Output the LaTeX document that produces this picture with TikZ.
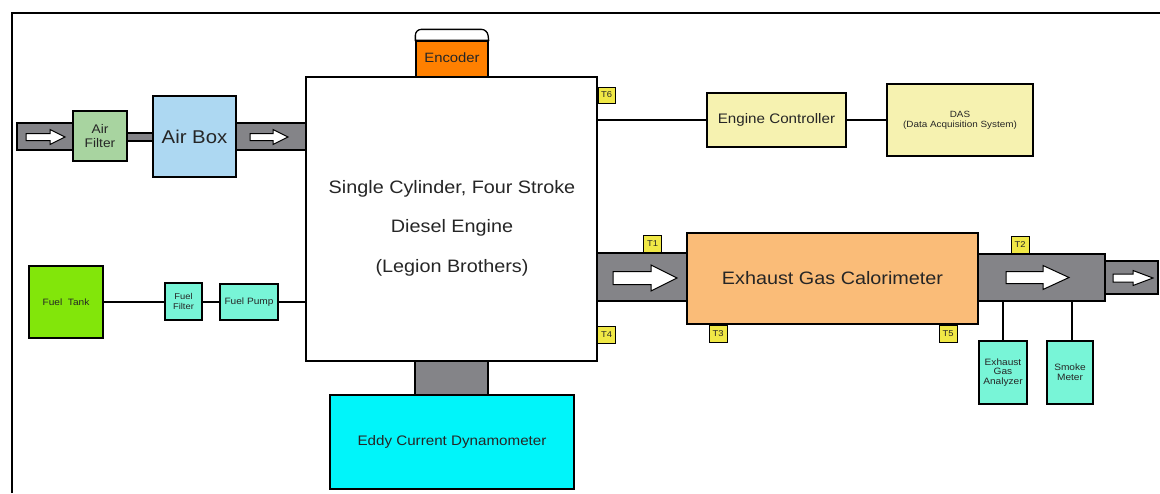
\documentclass[tikz,border=0pt]{standalone}
\usepackage{fontspec}
\setmainfont[FakeStretch=1.1]{Liberation Sans}
\definecolor{pipegrey}{RGB}{132,132,136}
\definecolor{filtgreen}{RGB}{168,212,160}
\definecolor{boxblue}{RGB}{173,216,242}
\definecolor{encorange}{RGB}{255,128,0}
\definecolor{tyellow}{RGB}{240,232,70}
\definecolor{paleyellow}{RGB}{246,242,176}
\definecolor{calorange}{RGB}{250,188,120}
\definecolor{aqua}{RGB}{120,245,215}
\definecolor{lime}{RGB}{130,230,10}
\definecolor{dyncyan}{RGB}{0,245,250}
\newcommand\fs[1]{\fontsize{#1}{#1}\selectfont}
\newcommand\blkarrow[6]{%
  \draw[line width=1pt, fill=white, line join=miter]
    (#1,#3-#4) -- (#2-#6,#3-#4) -- (#2-#6,#3-#5) -- (#2,#3)
    -- (#2-#6,#3+#5) -- (#2-#6,#3+#4) -- (#1,#3+#4) -- cycle;}
\tikzset{
  box/.style={draw, line width=1.3pt, inner sep=0pt, anchor=center, align=center, text=black!85},
  pipe/.style={draw, line width=1.2pt, fill=pipegrey, inner sep=0pt, anchor=center},
  tlab/.style={draw, line width=1pt, fill=tyellow, inner sep=0pt, anchor=center,
    minimum width=18, minimum height=17, font=\fs{8.5}, text=black!85},
  conn/.style={line width=1.3pt},
  txt/.style={inner sep=0pt, align=center, text=black!85}
}
\begin{document}
\begin{tikzpicture}[x=1pt,y=-1pt]
\useasboundingbox (0,0) rectangle (1160,493);
% frame
\draw[line width=2.6pt] (12,493) -- (12,13) -- (1160,13);
% pipes
\node[pipe, minimum width=56, minimum height=27] (inpipe) at (45,136.5) {};
\node[pipe, minimum width=26, minimum height=8] (link1) at (140,137) {};
\node[pipe, minimum width=70, minimum height=27] (pipe2) at (271,136.5) {};
\node[pipe, minimum width=91, minimum height=48] (exh1) at (642.5,277) {};
\node[pipe, minimum width=127, minimum height=47] (exh2) at (1041.5,277.5) {};
\node[pipe, minimum width=53, minimum height=33] (exh3) at (1131.5,277.5) {};
\node[pipe, minimum width=73, minimum height=34] (dynlink) at (451.5,378) {};
% arrows
\blkarrow{26}{65}{137}{3.5}{7.5}{15}
\blkarrow{250}{288}{137}{3.5}{7.5}{15}
\blkarrow{613}{677}{278}{6.5}{13}{26}
\blkarrow{1006}{1069}{277.5}{6}{12}{26}
\blkarrow{1113}{1153}{278}{4}{7.5}{20}
% boxes
\node[box, fill=filtgreen, minimum width=54, minimum height=50, font=\fs{12.5}] (airfilter) at (100,136) {Air\\[1pt]Filter};
\node[box, fill=boxblue, minimum width=83, minimum height=81, font=\fs{18.5}] (airbox) at (194.5,136.5) {Air Box};
\node[box, fill=white, minimum width=291, minimum height=284] (engine) at (451.5,219) {};
\node[txt, font=\fontsize{18}{39.5}\selectfont] (engtext) at (452,228) {Single Cylinder, Four Stroke\\Diesel Engine\\(Legion Brothers)};
\node[box, fill=encorange, minimum width=72, minimum height=36, font=\fs{13.5}] (encoder) at (452,59) {\raisebox{3pt}{Encoder}};
\draw[line width=1.3pt, fill=white] (encoder.north west) [rounded corners=6pt] -- ++(0,-11) -- ++(72,0) [sharp corners] -- (encoder.north east) -- cycle;
\node[box, fill=paleyellow, minimum width=139, minimum height=54, font=\fs{13.8}] (ctrl) at (776.5,120) {Engine Controller};
\node[box, fill=paleyellow, minimum width=146, minimum height=72, font=\fontsize{9}{10}\selectfont] (das) at (960,120) {DAS\\(Data Acquisition System)};
\node[box, fill=calorange, minimum width=291, minimum height=91, font=\fs{18}] (calor) at (832.5,278.5) {Exhaust Gas Calorimeter};
\node[box, fill=aqua, minimum width=48, minimum height=63, font=\fontsize{9.2}{9.8}\selectfont] (analyzer) at (1003,372.5) {Exhaust\\Gas\\Analyzer};
\node[box, fill=aqua, minimum width=46, minimum height=63, font=\fontsize{9.2}{10}\selectfont] (smoke) at (1070,372.5) {Smoke\\Meter};
\node[box, fill=lime, minimum width=74, minimum height=72, font=\fs{9.2}] (tank) at (66,302) {Fuel~~Tank};
\node[box, fill=aqua, minimum width=37, minimum height=37, font=\fontsize{8.5}{9.5}\selectfont] (ffilter) at (183.5,301.5) {Fuel\\Filter};
\node[box, fill=aqua, minimum width=58, minimum height=36, font=\fs{9.2}] (fpump) at (249,302) {Fuel Pump};
\node[box, fill=dyncyan, minimum width=244, minimum height=94, font=\fs{13.8}] (dyno) at (452,442) {Eddy Current Dynamometer};
% temperature tags
\node[tlab, minimum width=17, minimum height=16] (t6) at (606.5,95) {T6};
\node[tlab] (t1) at (652.5,244) {T1};
\node[tlab] (t4) at (606.5,335) {T4};
\node[tlab] (t3) at (718,334) {T3};
\node[tlab] (t5) at (948,334) {T5};
\node[tlab] (t2) at (1020,244.5) {T2};
% connectors
\draw[conn] (engine.east |- ctrl.west) -- (ctrl.west);
\draw[conn] (ctrl.east) -- (das.west |- ctrl.east);
\draw[conn] (tank.east) -- (ffilter.west |- tank.east);
\draw[conn] (ffilter.east |- fpump.west) -- (fpump.west);
\draw[conn] (fpump.east) -- (engine.west |- fpump.east);
\draw[conn] (exh2.south -| analyzer.north) -- (analyzer.north);
\draw[conn] (exh2.south -| 1072,0) -- (smoke.north -| 1072,0);
\end{tikzpicture}
\end{document}
